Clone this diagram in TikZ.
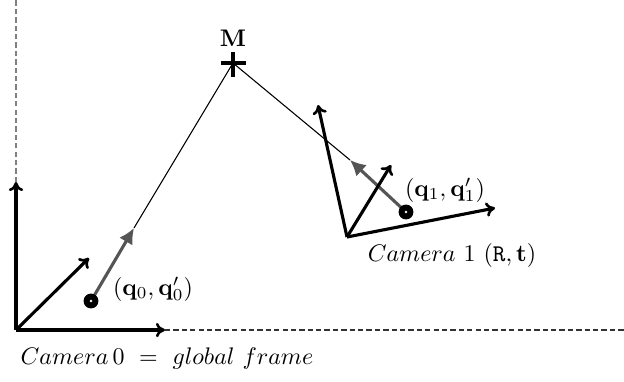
\documentclass[tikz,border=0pt]{standalone}
\usetikzlibrary{arrows.meta}
\begin{document}
\begin{tikzpicture}[x=0.417pt,y=-0.417pt,
  axis/.style={line width=1.3pt,-{To[length=3.8pt,width=6pt,line width=1.1pt]}},
  feat/.style={line width=1.3pt,draw=featgray,-{Latex[length=6.5pt,width=6.5pt]}},
  ray/.style={line width=0.45pt},
  ext/.style={line width=0.5pt,dash pattern=on 2.2pt off 1.3pt},
  lbl/.style={inner sep=0pt}]
\definecolor{featgray}{RGB}{85,85,85}
\useasboundingbox (0,0) rectangle (624,381);
% camera 0
\coordinate (o0) at (16,330);
\coordinate (x0) at (165,330);
\coordinate (y0) at (16,182);
\coordinate (z0) at (89,258);
\coordinate (xe) at (624,330);
\coordinate (ye) at (16,0);
\draw[ext,draw=black!80] (x0) -- (xe);
\draw[ext,draw=black!50] (y0) -- (ye);
\draw[axis] (o0) -- (x0);
\draw[axis] (o0) -- (y0);
\draw[axis] (o0) -- (z0);
% point M
\coordinate (M) at (233,63);
\draw[line width=1.3pt] (221,63) -- (246,63) (233,52) -- (233,77);
\node[lbl] (Ml) at (233,38) {$\mathbf{M}$};
% rays
\coordinate (p0) at (91,301);
\coordinate (t0) at (134,228);
\coordinate (p1) at (406,212);
\coordinate (t1) at (350,160);
\draw[ray] (M) -- (t0);
\draw[ray] (M) -- (t1);
\draw[feat] (p0) -- (t0);
\draw[feat] (p1) -- (t1);
% camera 1
\coordinate (o1) at (347,237);
\coordinate (x1) at (495,208);
\coordinate (y1) at (318,105);
\coordinate (z1) at (391,165);
\draw[axis] (o1) -- (x1);
\draw[axis] (o1) -- (y1);
\draw[axis] (o1) -- (z1);
% feature points
\foreach \p in {p0,p1}{
  \fill[black] (\p) circle (3.1pt);
  \fill[white] (\p) circle (0.55pt);
}
% labels
\node[lbl] (q0) at (153,289) {$(\mathbf{q}_0,\mathbf{q}'_0)$};
\node[lbl] (q1) at (445,190) {$(\mathbf{q}_1,\mathbf{q}'_1)$};
\node[lbl] (c1) at (452,255) {$Camera\ 1\ (\mathtt{R},\mathbf{t})$};
\node[lbl] (c0) at (167,358) {$Camera\,0\ =\ global\ frame$};
\end{tikzpicture}
\end{document}
